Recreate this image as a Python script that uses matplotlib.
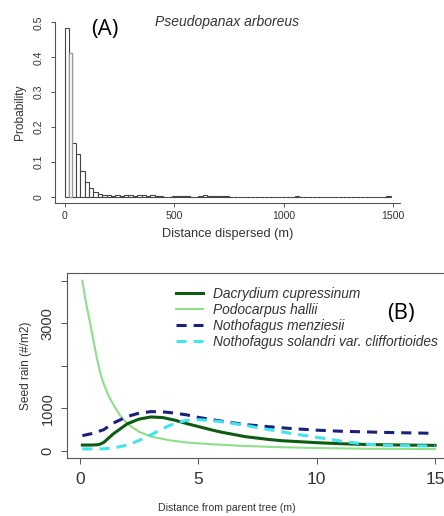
import numpy as np
import matplotlib
matplotlib.use("Agg")
import matplotlib.pyplot as plt

plt.rcParams['font.family'] = ['Liberation Sans', 'DejaVu Sans']

# ---- Panel A: dispersal histogram (Pseudopanax arboreus) ----
head_edges = [0, 20, 30, 50, 70, 90, 110, 130, 150]
head_prob = [0.485, 0.411, 0.155, 0.122, 0.074, 0.042, 0.025, 0.015]
tail_prob = [0.009, 0.006, 0.005, 0.004, 0.005, 0.004, 0.005, 0.006, 0.004, 0.005,
             0.006, 0.004, 0.005, 0.003, 0.002, 0.001, 0.001, 0.002, 0.003, 0.002,
             0.003, 0.001, 0.001, 0.002, 0.006, 0.004, 0.002, 0.002, 0.003, 0.002,
             0.001, 0.0, 0.0,
             0, 0, 0, 0, 0, 0, 0, 0, 0, 0, 0, 0,
             0.003,
             0, 0, 0, 0, 0, 0, 0, 0, 0, 0, 0, 0, 0, 0, 0, 0, 0, 0, 0, 0,
             0.004]
tail_edges = list(range(150, 1491, 20))

# ---- Panel B: seed rain curves ----
x_dacr = [0.1, 0.5, 0.8, 1.0, 1.4, 2.0, 2.5, 3.0, 3.5, 4.0, 4.5, 5.0, 5.6, 6.0,
          7.0, 8.0, 8.5, 10.0, 11.0, 12.0, 13.0, 14.0, 15.0]
y_dacr = [140, 140, 150, 200, 400, 640, 750, 800, 785, 725, 645, 575, 490, 440,
          336, 270, 243, 196, 172, 155, 145, 138, 133]

x_podo = [0.1, 0.2, 0.3, 0.4, 0.5, 0.6, 0.7, 0.8, 0.9, 1.0, 1.2, 1.4, 1.7, 2.0,
          2.5, 3.0, 3.8, 4.6, 5.5, 7.0, 8.5, 10.0, 12.0, 15.0]
y_podo = [4000, 3650, 3350, 3080, 2790, 2500, 2220, 1960, 1750, 1580, 1300, 1100,
          830, 640, 450, 340, 250, 195, 160, 117, 90, 70, 55, 45]

x_menz = [0.1, 0.5, 1.0, 1.4, 2.0, 2.5, 3.0, 3.5, 4.0, 4.5, 5.0, 6.0, 7.0, 8.0,
          9.0, 10.0, 11.0, 12.0, 13.0, 14.0, 15.0]
y_menz = [360, 410, 500, 654, 811, 890, 925, 920, 890, 850, 790, 700, 620, 570,
          525, 490, 465, 450, 435, 425, 415]

x_sola = [0.1, 1.0, 1.5, 2.0, 2.5, 3.0, 3.5, 4.0, 4.5, 5.0, 5.5, 6.3, 7.0, 7.7,
          8.9, 10.3, 11.0, 12.0, 13.0, 14.0, 15.0]
y_sola = [50, 50, 80, 140, 250, 380, 530, 650, 720, 735, 720, 665, 600, 530,
          415, 297, 235, 164, 135, 122, 117]

species = ["Dacrydium cupressinum", "Podocarpus hallii",
           "Nothofagus menziesii", "Nothofagus solandri var. cliffortioides"]

W, H = 444, 516
fig = plt.figure(figsize=(W / 100, H / 100), dpi=100)
fig.patch.set_facecolor("white")


def px_axes(left, right, top, bottom):
    return fig.add_axes([left / W, 1 - bottom / H, (right - left) / W, (bottom - top) / H])


txt = "#333333"
axc = "#555555"

# Panel A
axA = px_axes(55, 400, 22, 203)
edges = np.array(head_edges + tail_edges[1:])
probs = np.array(head_prob + tail_prob)
widths = np.diff(edges)
axA.bar(edges[:-1], probs, width=widths, align="edge", color="white",
        edgecolor="#444444", linewidth=0.8)
# narrow grey bar sits a bit lighter in the original
axA.bar(edges[1], probs[1], width=widths[1], align="edge", color="white",
        edgecolor="#999999", linewidth=0.9)
axA.set_xlim(-45.7, 1532)
axA.set_ylim(-0.0172, 0.501)
for s in ["top", "right"]:
    axA.spines[s].set_visible(False)
for s in ["left", "bottom"]:
    axA.spines[s].set_color(axc)
    axA.spines[s].set_linewidth(0.8)
axA.set_xticks([0, 500, 1000, 1500])
axA.set_yticks([0, 0.1, 0.2, 0.3, 0.4, 0.5])
axA.set_yticklabels(["0", "0.1", "0.2", "0.3", "0.4", "0.5"], rotation=90, va="center")
axA.tick_params(axis="both", colors=axc, labelcolor=txt, labelsize=7.6, length=3, width=0.7)
axA.tick_params(axis="x", pad=3)
axA.tick_params(axis="y", pad=5)
axA.set_xlabel("Distance dispersed (m)", fontsize=9.2, color=txt, labelpad=5)
axA.set_ylabel("Probability", fontsize=8.6, color=txt, labelpad=6)
fig.text(227 / W, 1 - 22 / H, "Pseudopanax arboreus", style="italic",
         fontsize=10, color=txt, ha="center", va="center")
fig.text(105 / W, 1 - 29 / H, "(A)", fontsize=16, family="Open Sans",
         color="black", ha="center", va="center")

# Panel B
axB = px_axes(67, 449, 273, 458)
axB.plot(x_dacr, y_dacr, color="#0d5c12", lw=2.2, label=species[0], zorder=3)
axB.plot(x_podo, y_podo, color="#8fdf8a", lw=1.5, label=species[1], zorder=2)
axB.plot(x_menz, y_menz, color="#1b1f7e", lw=2.2, dashes=(3.3, 2.3),
         label=species[2], zorder=4)
axB.plot(x_sola, y_sola, color="#3fe6ef", lw=2.2, dashes=(3.3, 2.3),
         label=species[3], zorder=4)
axB.set_xlim(-0.549, 15.59)
axB.set_ylim(-164, 4181)
for s in axB.spines.values():
    s.set_color(axc)
    s.set_linewidth(0.8)
axB.set_xticks([0, 5, 10, 15])
axB.set_yticks([0, 1000, 2000, 3000, 4000])
axB.set_yticklabels(["0", "1000", "", "3000", ""], rotation=90, va="center")
axB.tick_params(axis="both", colors=axc, labelcolor=txt, length=4, width=0.7)
axB.tick_params(axis="x", labelsize=12.5, pad=6)
axB.tick_params(axis="y", labelsize=10.5, pad=5)
axB.set_ylabel("Seed rain (#/m2)", fontsize=8.6, color=txt, labelpad=6)
fig.text(227 / W, 1 - 508 / H, "Distance from parent tree (m)", fontsize=7.6,
         color=txt, ha="center", va="center")
leg = axB.legend(loc="upper left", bbox_to_anchor=(166 / W, 1 - 277 / H),
                 bbox_transform=fig.transFigure, frameon=False,
                 prop={"style": "italic", "size": 9.9}, handlelength=2.0,
                 handletextpad=0.75, labelspacing=0.16, borderpad=0.2)
for t in leg.get_texts():
    t.set_color(txt)
fig.text(401 / W, 1 - 313 / H, "(B)", fontsize=16, family="Open Sans",
         color="black", ha="center", va="center")

fig.savefig("out.png", dpi=100, facecolor="white")
